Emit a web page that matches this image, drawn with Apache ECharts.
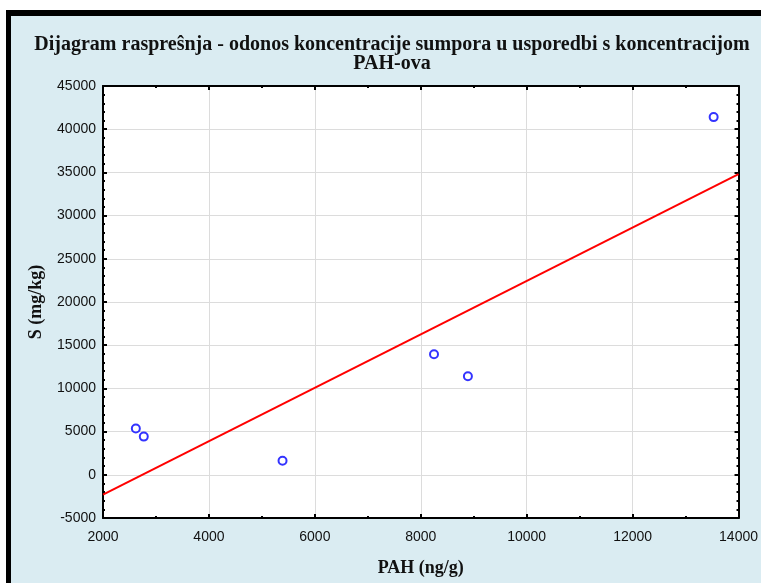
<!DOCTYPE html>
<html>
<head>
<meta charset="utf-8">
<script src="https://cdn.jsdelivr.net/npm/echarts@6/dist/echarts.min.js"></script>
<style>
html,body{margin:0;padding:0;background:#fff;}
#c{width:761px;height:583px;}
</style>
</head>
<body>
<div id="c"></div>
<script>
const titleText = "Dijagram raspreŝnja - odonos koncentracije sumpora u usporedbi s koncentracijom\nPAH-ova";
const xName = "PAH (ng/g)";
const yName = "S (mg/kg)";
const pahValues = [2620, 2770, 5390, 8250, 8890, 13530];
const sValues = [5350, 4420, 1630, 13950, 11400, 41400];
const fitX = [2000, 14000];
const fitY = [-2300, 34800];

const chart = echarts.init(document.getElementById('c'), null, {renderer: 'canvas'});
const bg = '#daecf2';
const plain = v => String(v);
const axisCommon = {
  axisLine: {show: true, onZero: false, lineStyle: {color: '#000', width: 2}},
  axisTick: {show: true, inside: true, length: 4, lineStyle: {color: '#000', width: 2}},
  minorTick: {show: true, length: 2, lineStyle: {color: '#000', width: 2}},
};
const option = {
  animation: false,
  backgroundColor: 'transparent',
  graphic: [
    {type: 'rect', z: -10, shape: {x: 6, y: 10, width: 755, height: 573}, style: {fill: '#000'}},
    {type: 'rect', z: -9, shape: {x: 11, y: 16, width: 750, height: 567}, style: {fill: bg}},
    {type: 'text', z: 10, x: 392, y: 35, style: {
      text: titleText, align: 'center', verticalAlign: 'top', lineHeight: 19,
      fill: '#111', font: 'bold 20px "Liberation Serif"'
    }}
  ],
  grid: {left: 103, right: 20, top: 86, bottom: 65, show: true, backgroundColor: '#fff', borderWidth: 0},
  xAxis: [
    Object.assign({}, axisCommon, {
      type: 'value', min: 2000, max: 14000, interval: 2000, position: 'bottom',
      minorTick: Object.assign({}, axisCommon.minorTick, {splitNumber: 2}),
      axisLabel: {color: '#111', fontFamily: 'Liberation Sans', fontSize: 14, margin: 12, formatter: plain},
      splitLine: {show: true, lineStyle: {color: '#dcdcdc', width: 1}},
      name: xName, nameLocation: 'middle', nameGap: 41,
      nameTextStyle: {fontFamily: 'Liberation Serif', fontWeight: 'bold', fontSize: 18, color: '#111'}
    }),
    Object.assign({}, axisCommon, {
      type: 'value', min: 2000, max: 14000, interval: 2000, position: 'top',
      minorTick: Object.assign({}, axisCommon.minorTick, {splitNumber: 2}),
      axisLabel: {show: false}, splitLine: {show: false}
    })
  ],
  yAxis: [
    Object.assign({}, axisCommon, {
      type: 'value', min: -5000, max: 45000, interval: 5000, position: 'left',
      minorTick: Object.assign({}, axisCommon.minorTick, {splitNumber: 5}),
      axisLabel: {color: '#111', fontFamily: 'Liberation Sans', fontSize: 14, margin: 7, formatter: plain},
      splitLine: {show: true, lineStyle: {color: '#dcdcdc', width: 1}},
      name: yName, nameLocation: 'middle', nameGap: 58, nameRotate: 90,
      nameTextStyle: {fontFamily: 'Liberation Serif', fontWeight: 'bold', fontSize: 18, color: '#111'}
    }),
    Object.assign({}, axisCommon, {
      type: 'value', min: -5000, max: 45000, interval: 5000, position: 'right',
      minorTick: Object.assign({}, axisCommon.minorTick, {splitNumber: 5}),
      axisLabel: {show: false}, splitLine: {show: false}
    })
  ],
  series: [
    {
      type: 'line', data: fitX.map((x, i) => [x, fitY[i]]), symbol: 'none',
      lineStyle: {color: '#ff0000', width: 2}, z: 3, clip: true
    },
    {
      type: 'scatter', data: pahValues.map((x, i) => [x, sValues[i]]),
      symbol: 'emptyCircle', symbolSize: 8,
      itemStyle: {color: '#0000ff', borderColor: '#0000ff', borderWidth: 2.5}, z: 4
    }
  ]
};
chart.setOption(option);
</script>
</body>
</html>
